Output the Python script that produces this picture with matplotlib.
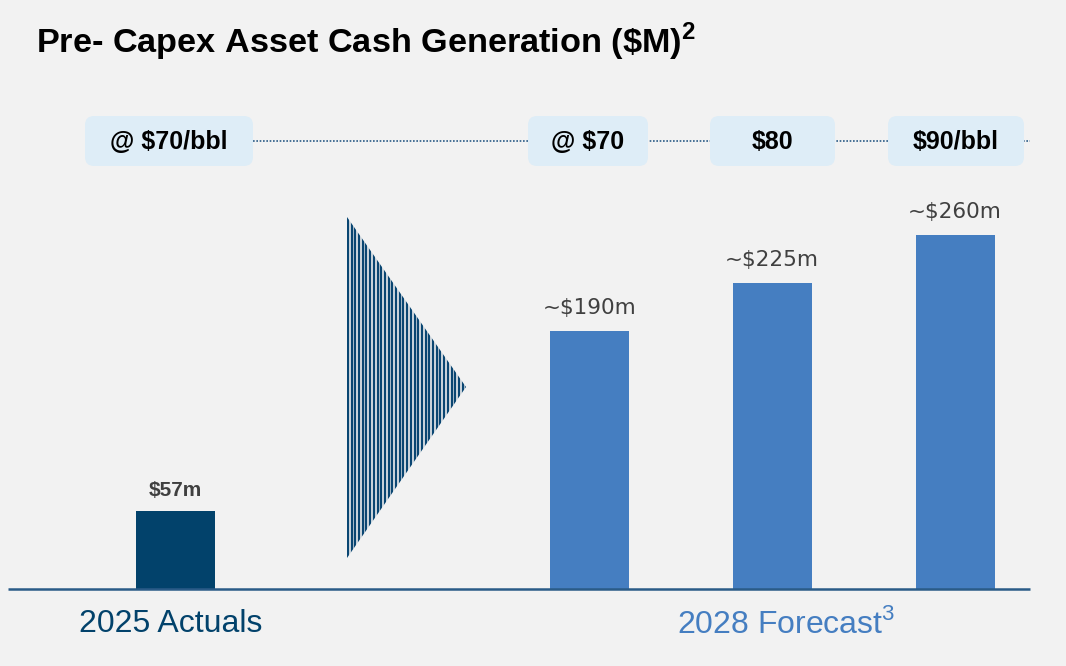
import numpy as np
import matplotlib
matplotlib.use("Agg")
import matplotlib.pyplot as plt
from matplotlib.patches import FancyBboxPatch, Polygon

plt.rcParams["mathtext.fontset"] = "custom"
plt.rcParams["mathtext.rm"] = "Liberation Sans"
plt.rcParams["mathtext.bf"] = "Liberation Sans:bold"

# data
categories = ["2025 Actuals", "@ $70", "$80", "$90/bbl"]
values = [57, 190, 225, 260]
value_labels = ["$57m", "~$190m", "~$225m", "~$260m"]
price_labels = ["@ $70/bbl", "@ $70", "$80", "$90/bbl"]
group_labels = ["2025 Actuals", r"2028 Forecast$^{\mathrm{3}}$"]
title = r"Pre- Capex Asset Cash Generation (\$M)$^{\mathbf{2}}$"

NAVY = "#02426b"
BLUE = "#457ec1"
BG = "#f2f2f2"
BOX = "#deedf7"
GREY = "#404040"

W, H = 1066, 666
fig = plt.figure(figsize=(W / 100, H / 100), dpi=100, facecolor=BG)

# bar axes: baseline at pixel row 589, 1.36 px per $M
base_px, scale = 589, 1.36
ax = fig.add_axes([0, 0, 1, 1])
ax.set_xlim(0, W)
ax.set_ylim(-(H - base_px) / scale, base_px / scale)
ax.axis("off")
ax.patch.set_alpha(0)

bar_x = [175.5, 589.5, 772, 955]
bar_colors = [NAVY, BLUE, BLUE, BLUE]
bars = ax.bar(bar_x, values, width=79, color=bar_colors, zorder=2)

for i, (b, lab) in enumerate(zip(bars, value_labels)):
    top = b.get_height()
    if i == 0:
        ax.text(b.get_x() + b.get_width() / 2, top + 21 / scale, lab,
                ha="center", va="center", fontsize=15, fontweight="bold",
                color=GREY, family="Liberation Sans")
    else:
        ax.text(b.get_x() + b.get_width() / 2, top + 23 / scale, lab,
                ha="center", va="center", fontsize=15.5, color=GREY,
                family="DejaVu Sans")

# overlay in pixel coords for decorations
ov = fig.add_axes([0, 0, 1, 1])
ov.set_xlim(0, W)
ov.set_ylim(H, 0)
ov.axis("off")
ov.patch.set_alpha(0)

# baseline
ov.plot([8, 1030], [589, 589], color="#2a5b87", lw=1.8, solid_capstyle="butt", zorder=3)

# title
ov.text(36, 42, title, ha="left", va="center", fontsize=24.7, fontweight="bold",
        color="black", family="Liberation Sans")

# dotted price line and boxes
ov.plot([253, 1030], [141, 141], color="#2a5b87", lw=1.2, ls=(0, (1, 1)), zorder=1)
boxes = [(85, 253), (528, 648), (710, 835), (888, 1024)]
for (x0, x1), lab in zip(boxes, price_labels):
    p = FancyBboxPatch((x0, 116), x1 - x0, 50,
                       boxstyle="round,pad=0,rounding_size=9",
                       fc=BOX, ec="none", zorder=2)
    ov.add_patch(p)
    ov.text((x0 + x1) / 2, 142, lab, ha="center", va="center", fontsize=18,
            fontweight="bold", color="black", family="Liberation Sans", zorder=3)

# striped arrow
tri = Polygon([(347, 217), (347, 558), (466, 387)], closed=True,
              fc="none", ec="none")
ov.add_patch(tri)
stripes = ov.vlines(np.arange(348, 467, 3.7), 210, 565, color="#0a4672", lw=1.7, zorder=2)
stripes.set_clip_path(tri)

# group labels
ov.text(171, 624, group_labels[0], ha="center", va="center", fontsize=23,
        color=NAVY, family="Liberation Sans")
ov.text(786, 624, group_labels[1], ha="center", va="center", fontsize=23,
        color=BLUE, family="Liberation Sans")

fig.savefig("out.png", dpi=100, facecolor=BG)
